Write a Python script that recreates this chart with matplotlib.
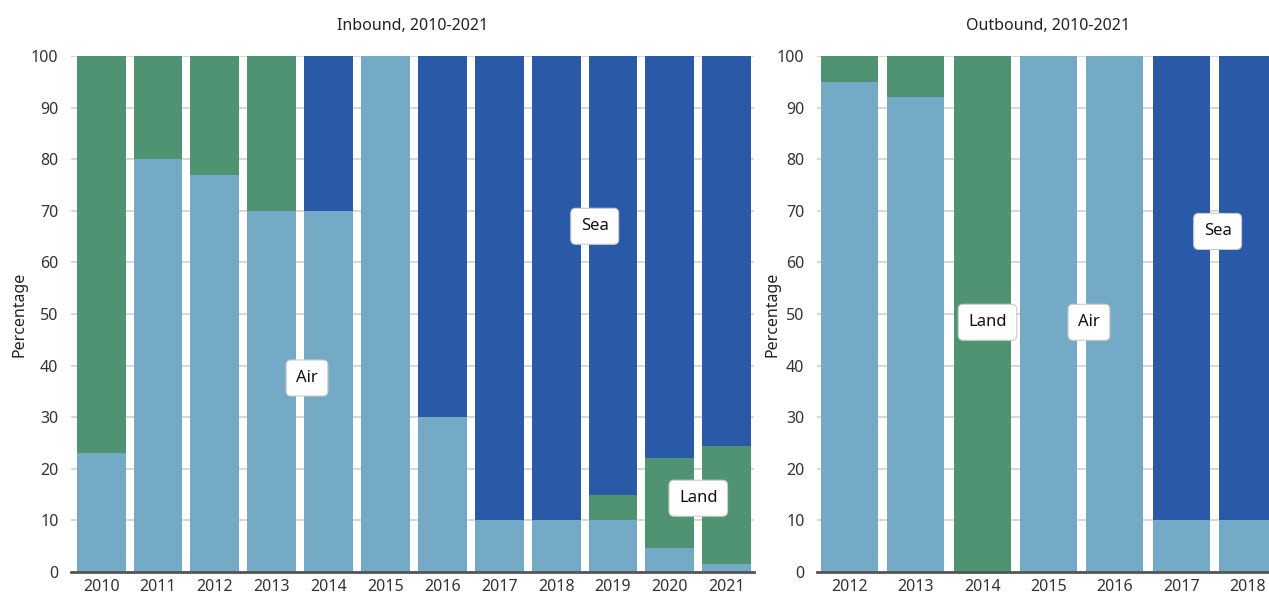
import matplotlib
matplotlib.use("Agg")
import matplotlib.pyplot as plt
import numpy as np

plt.rcParams['font.family'] = ['Noto Sans', 'DejaVu Sans']

# inbound shares (percent)
in_years = ['2010', '2011', '2012', '2013', '2014', '2015', '2016', '2017', '2018', '2019', '2020', '2021']
in_air = [23, 80, 77, 70, 70, 100, 30, 10, 10, 10, 4.7, 1.5]
in_land = [77, 20, 23, 30, 0, 0, 0, 0, 0, 5, 17.4, 22.9]
in_sea = [0, 0, 0, 0, 30, 0, 70, 90, 90, 85, 77.9, 75.6]

# outbound shares (percent)
out_years = ['2012', '2013', '2014', '2015', '2016', '2017', '2018']
out_air = [95, 92, 0, 100, 100, 10, 10]
out_land = [5, 8, 100, 0, 0, 0, 0]
out_sea = [0, 0, 0, 0, 0, 90, 90]

c_air = '#75AAC6'
c_land = '#509373'
c_sea = '#2959A7'

fig = plt.figure(figsize=(12.69, 5.96), dpi=100)
ax1 = fig.add_axes([71 / 1269, 24 / 596, 683 / 1269, 516 / 596])
ax2 = fig.add_axes([817 / 1269, 24 / 596, 463 / 1269, 516 / 596])


def stacked(ax, years, air, land, sea, title, xlim, ylab_x):
    x = np.arange(len(years))
    w = 0.86
    ax.bar(x, air, w, color=c_air, zorder=2)
    ax.bar(x, land, w, bottom=air, color=c_land, zorder=2)
    ax.bar(x, sea, w, bottom=np.array(air) + np.array(land), color=c_sea, zorder=2)
    ax.set_xlim(*xlim)
    ax.set_ylim(0, 100)
    ax.set_yticks(range(0, 101, 10))
    ax.set_xticks(x)
    ax.set_xticklabels(years)
    ax.grid(axis='y', color='#d4d4d4', linewidth=1.3, zorder=0)
    for s in ['left', 'right', 'top']:
        ax.spines[s].set_visible(False)
    ax.spines['bottom'].set_color('#555555')
    ax.spines['bottom'].set_linewidth(2)
    ax.spines['bottom'].set_zorder(3)
    ax.tick_params(axis='both', length=0, labelsize=11.5, colors='#333333')
    ax.tick_params(axis='x', pad=5)
    ax.tick_params(axis='y', pad=9)
    ax.set_ylabel('Percentage', fontsize=11.5, color='#222222')
    ax.yaxis.set_label_coords(ylab_x, 0.5)
    ax.set_title(title, fontsize=11.5, color='#222222', pad=19)


def tag(ax, x, y, s):
    ax.text(x, y, s, ha='center', va='center', fontsize=12, color='#111111', zorder=5,
            bbox=dict(boxstyle='round,pad=0.6,rounding_size=0.3', fc='white', ec='#cccccc', lw=0.8))


stacked(ax1, in_years, in_air, in_land, in_sea, 'Inbound, 2010-2021', (-0.53, 11.48), -0.064)
stacked(ax2, out_years, out_air, out_land, out_sea, 'Outbound, 2010-2021', (-0.49, 6.49), -0.078)

tag(ax1, 3.62, 37.6, 'Air')
tag(ax1, 8.68, 67, 'Sea')
tag(ax1, 10.5, 14.3, 'Land')

tag(ax2, 2.08, 48.4, 'Land')
tag(ax2, 3.61, 48.4, 'Air')
tag(ax2, 5.55, 66, 'Sea')

fig.savefig('out.png', dpi=100)
